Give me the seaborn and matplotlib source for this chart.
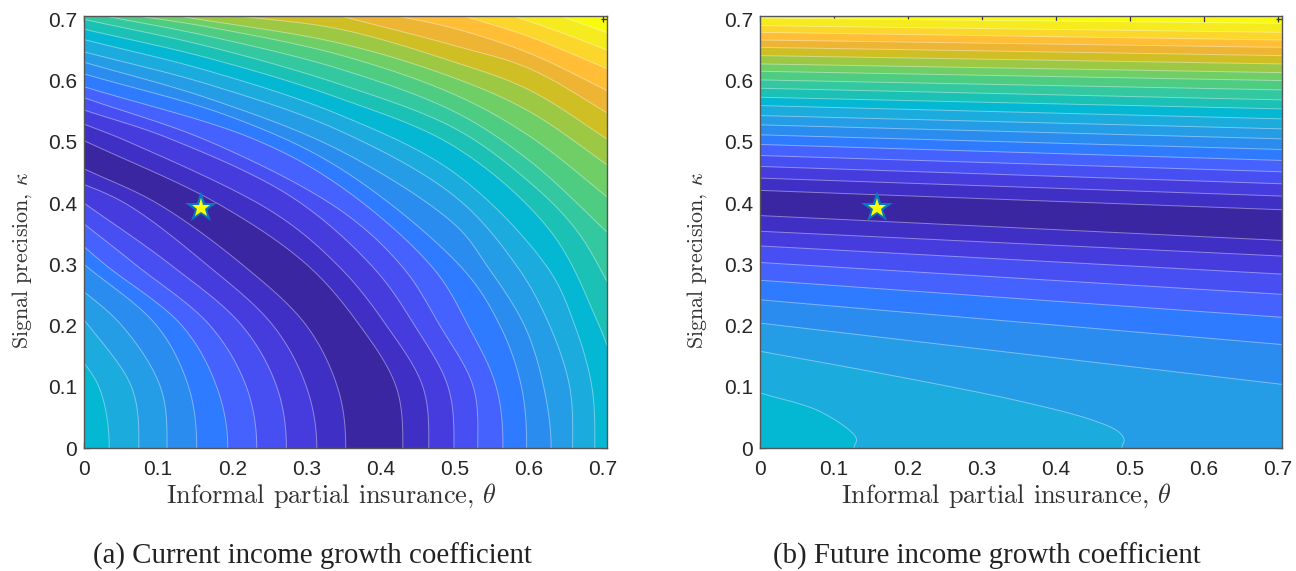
import matplotlib
matplotlib.use("Agg")
import matplotlib.pyplot as plt
import numpy as np
import seaborn as sns

# band colours, darkest (lowest value) to brightest (highest value)
BAND_HEX = ["#3A26A0", "#402FC4", "#463CDE", "#484FF2", "#4562FF", "#2F7BFF", "#2A8CEE",
            "#259CE6", "#1BABDD", "#04B7D3", "#1AC1B4", "#34C8A0", "#4DCC82", "#70CE66",
            "#9DC844", "#CFBF25", "#EEB535", "#FFBE35", "#FAD72A", "#F5EB1E", "#F9FB0E"]

TICKS = [0, 0.1, 0.2, 0.3, 0.4, 0.5, 0.6, 0.7]
TICK_LABELS = ["0", "0.1", "0.2", "0.3", "0.4", "0.5", "0.6", "0.7"]
XLABEL = r"Informal partial insurance, $\theta$"
YLABEL = r"Signal precision, $\kappa$"
CAPTIONS = ["(a) Current income growth coefficient", "(b) Future income growth coefficient"]
STAR_THETA = 0.158
STAR_KAPPA = 0.392

# Panel (a): contour lines read as (theta, kappa), index k = boundary of band k and k+1
A_UPPER = [
    [(.430, 0), (.421, .1), (.372, .2), (.300, .300), (.179, .400), (0, .502)],
    [(.465, 0), (.457, .1), (.408, .2), (.345, .295), (.255, .385), (.060, .500), (0, .529)],
    [(.499, 0), (.491, .1), (.446, .2), (.390, .295), (.280, .410), (.116, .505), (0, .552)],
    [(.531, 0), (.525, .1), (.480, .2), (.430, .295), (.345, .389), (.170, .500), (0, .572)],
    [(.565, 0), (.556, .1), (.518, .2), (.470, .295), (.345, .428), (.228, .505), (0, .590)],
    [(.597, 0), (.590, .1), (.561, .2), (.509, .295), (.345, .457), (.200, .540), (0, .611)],
    [(.630, 0), (.620, .1), (.594, .2), (.545, .295), (.500, .365), (.345, .486), (.170, .570), (0, .630)],
    [(.659, 0), (.655, .1), (.628, .2), (.585, .295), (.500, .411), (.345, .518), (.170, .593), (0, .647)],
    [(.689, 0), (.685, .1), (.662, .2), (.625, .295), (.500, .449), (.345, .544), (.170, .615), (0, .667)],
    [(.725, .100), (.693, .205), (.628, .356), (.500, .492), (.345, .571), (.170, .636), (0, .684)],
    [(.720, .240), (.664, .356), (.600, .435), (.500, .522), (.345, .594), (.170, .655), (0, .700)],
    [(.720, .336), (.600, .470), (.500, .549), (.345, .619), (.170, .672), (.026, .706)],
    [(.720, .396), (.600, .510), (.500, .577), (.345, .642), (.170, .687), (.071, .706)],
    [(.720, .450), (.600, .550), (.500, .604), (.345, .661), (.125, .706)],
    [(.720, .493), (.600, .585), (.500, .630), (.345, .684), (.206, .706)],
    [(.720, .537), (.600, .620), (.500, .657), (.345, .706)],
    [(.720, .575), (.600, .645), (.500, .685), (.421, .706)],
    [(.720, .612), (.600, .672), (.511, .706)],
    [(.720, .643), (.640, .680), (.578, .706)],
    [(.720, .672), (.641, .706)],
]
A_LOWER = [
    [(.353, 0), (.343, .095), (.300, .2), (.213, .3), (.098, .4), (0, .456)],
    [(.314, 0), (.300, .1), (.255, .2), (.165, .3), (.055, .4), (-.03, .445)],
    [(.273, 0), (.260, .1), (.213, .2), (.116, .3), (0, .400)],
    [(.233, 0), (.219, .1), (.170, .2), (.069, .3), (-.02, .385)],
    [(.194, 0), (.179, .1), (.132, .2), (.028, .3), (-.02, .35)],
    [(.152, 0), (.141, .1), (.098, .2), (0, .300)],
    [(.112, 0), (.103, .1), (.051, .2), (-.02, .275)],
    [(.074, 0), (.064, .1), (.003, .205), (-.02, .24)],
    [(.034, 0), (.020, .1), (-.02, .17)],
]

# Panel (b): contour lines read at the left and the right frame
B_EDGE_THETA = [0.705, 0.0]
B_UPPER_LEFT = [.4207, .4408, .4598, .4777, .4957, .5114, .5277, .5429, .5592, .5728,
                .5875, .6011, .6152, .6272, .6408, .6543, .6663, .6788, .6897, .7022]
B_UPPER_RIGHT = [.3891, .4114, .4315, .4511, .4696, .4875, .5049, .5212, .5375, .5538,
                 .5685, .5848, .6000, .6130, .6272, .6408, .6543, .6663, .6788, .6935]
B_LOWER_LEFT = [.3796, .354, .330, .303, .274, .242, .204]
B_LOWER_RIGHT = [.339, .3135, .284, .251, .2135, .169, .104]
B_LOWER_CURVED = [
    [(.489, 0), (.492, .0135), (.484, .027), (.448, .046), (.353, .076), (.163, .122), (0, .158)],
    [(.127, 0), (.130, .016), (.082, .059), (0, .090)],
]


def straight(left, right):
    return [[(B_EDGE_THETA[0], r), (B_EDGE_THETA[1], l)] for l, r in zip(left, right)]


def smooth(curve, n=16):
    """Rounded line through the read points (centripetal Catmull-Rom through every one)."""
    p = np.array(curve, float)
    if len(p) < 3:
        return p
    first = np.array([p[1, 0], -p[1, 1]]) if p[0, 1] == 0 else 2 * p[0] - p[1]
    q = np.vstack([first, p, 2 * p[-1] - p[-2]])
    k = np.r_[0, np.cumsum(np.linalg.norm(np.diff(q, axis=0), axis=1) ** 0.5)]
    out = []
    for i in range(1, len(q) - 2):
        t = np.linspace(k[i], k[i + 1], n, endpoint=False)[:, None]
        a1 = ((k[i] - t) * q[i - 1] + (t - k[i - 1]) * q[i]) / (k[i] - k[i - 1])
        a2 = ((k[i + 1] - t) * q[i] + (t - k[i]) * q[i + 1]) / (k[i + 1] - k[i])
        a3 = ((k[i + 2] - t) * q[i + 1] + (t - k[i + 1]) * q[i + 2]) / (k[i + 2] - k[i + 1])
        b1 = ((k[i + 1] - t) * a1 + (t - k[i - 1]) * a2) / (k[i + 1] - k[i - 1])
        b2 = ((k[i + 2] - t) * a2 + (t - k[i]) * a3) / (k[i + 2] - k[i])
        out.append(((k[i + 1] - t) * b1 + (t - k[i]) * b2) / (k[i + 1] - k[i]))
    out.append(p[-1:])
    return np.vstack(out)


B_UPPER = straight(B_UPPER_LEFT, B_UPPER_RIGHT)
B_LOWER = straight(B_LOWER_LEFT, B_LOWER_RIGHT) + B_LOWER_CURVED

sns.set_theme(style="white")
plt.rcParams["font.family"] = ["Liberation Sans", "DejaVu Sans"]
plt.rcParams["mathtext.fontset"] = "cm"
palette = sns.color_palette(BAND_HEX)

W, H = 1296, 571
fig = plt.figure(figsize=(W / 100, H / 100), dpi=100)


def draw_band(ax, line, colour):
    ts = np.r_[2.0, line[:, 0], -1.0, -1.0]
    ks = np.r_[-1.0, line[:, 1], 2.0, -1.0]
    ax.fill(ts, ks, color=colour, lw=0, zorder=2)


def panel(rect, upper, lower, caption, cap_x, xlab_x, ylab_x):
    ax = fig.add_axes(rect)
    ax.set_facecolor(palette[20])
    up = [smooth(c) for c in upper]
    low = [smooth(c) for c in lower]
    for k in range(len(up) - 1, -1, -1):
        draw_band(ax, up[k], palette[k])
    for k, line in enumerate(low):
        draw_band(ax, line, palette[k + 1])
    for line in up + low:
        ax.plot(line[:, 0], line[:, 1], color="white", alpha=0.4, lw=0.7, zorder=3)
    ax.plot([STAR_THETA], [STAR_KAPPA], marker="*", ms=24, mfc="#0A78BE", mec="#0A78BE",
            mew=0, zorder=5, ls="none")
    ax.plot([STAR_THETA], [STAR_KAPPA], marker="*", ms=14, mfc="#FFFF00", mec="#FFFF00",
            mew=0, zorder=5.1, ls="none")
    ax.set_xlim(0, 0.705)
    ax.set_ylim(0, 0.706)
    ax.set_xticks(TICKS, TICK_LABELS)
    ax.set_yticks(TICKS, TICK_LABELS)
    ax.tick_params(direction="in", length=4.5, width=0.9, color="#333333", labelcolor="#262626",
                   labelsize=15, top=True, right=True, bottom=True, left=True, zorder=6)
    ax.tick_params(axis="x", pad=8.5)
    ax.tick_params(axis="y", pad=5)
    for s in ax.spines.values():
        s.set_color("#555555")
        s.set_linewidth(1.0)
        s.set_zorder(6)
    fig.text(xlab_x / W, 1 - 496 / H, XLABEL, ha="center", va="center", fontsize=19,
             family="cmr10", color="#333333")
    fig.text(ylab_x / W, 1 - 260 / H, YLABEL, ha="center", va="center", rotation=90, fontsize=15.8,
             family="cmr10", color="#333333")
    fig.text(cap_x / W, 1 - 556 / H, caption, ha="center", va="center", fontsize=20.8,
             family="Liberation Serif", color="#222222")
    return ax


panel([84 / W, 1 - 448 / H, 522.7 / W, 432.3 / H], A_UPPER, A_LOWER, CAPTIONS[0], 312, 331, 22)
panel([760 / W, 1 - 448 / H, 521.7 / W, 432.3 / H], B_UPPER, B_LOWER, CAPTIONS[1], 987, 1006, 697)

fig.savefig("out.png", dpi=100)
